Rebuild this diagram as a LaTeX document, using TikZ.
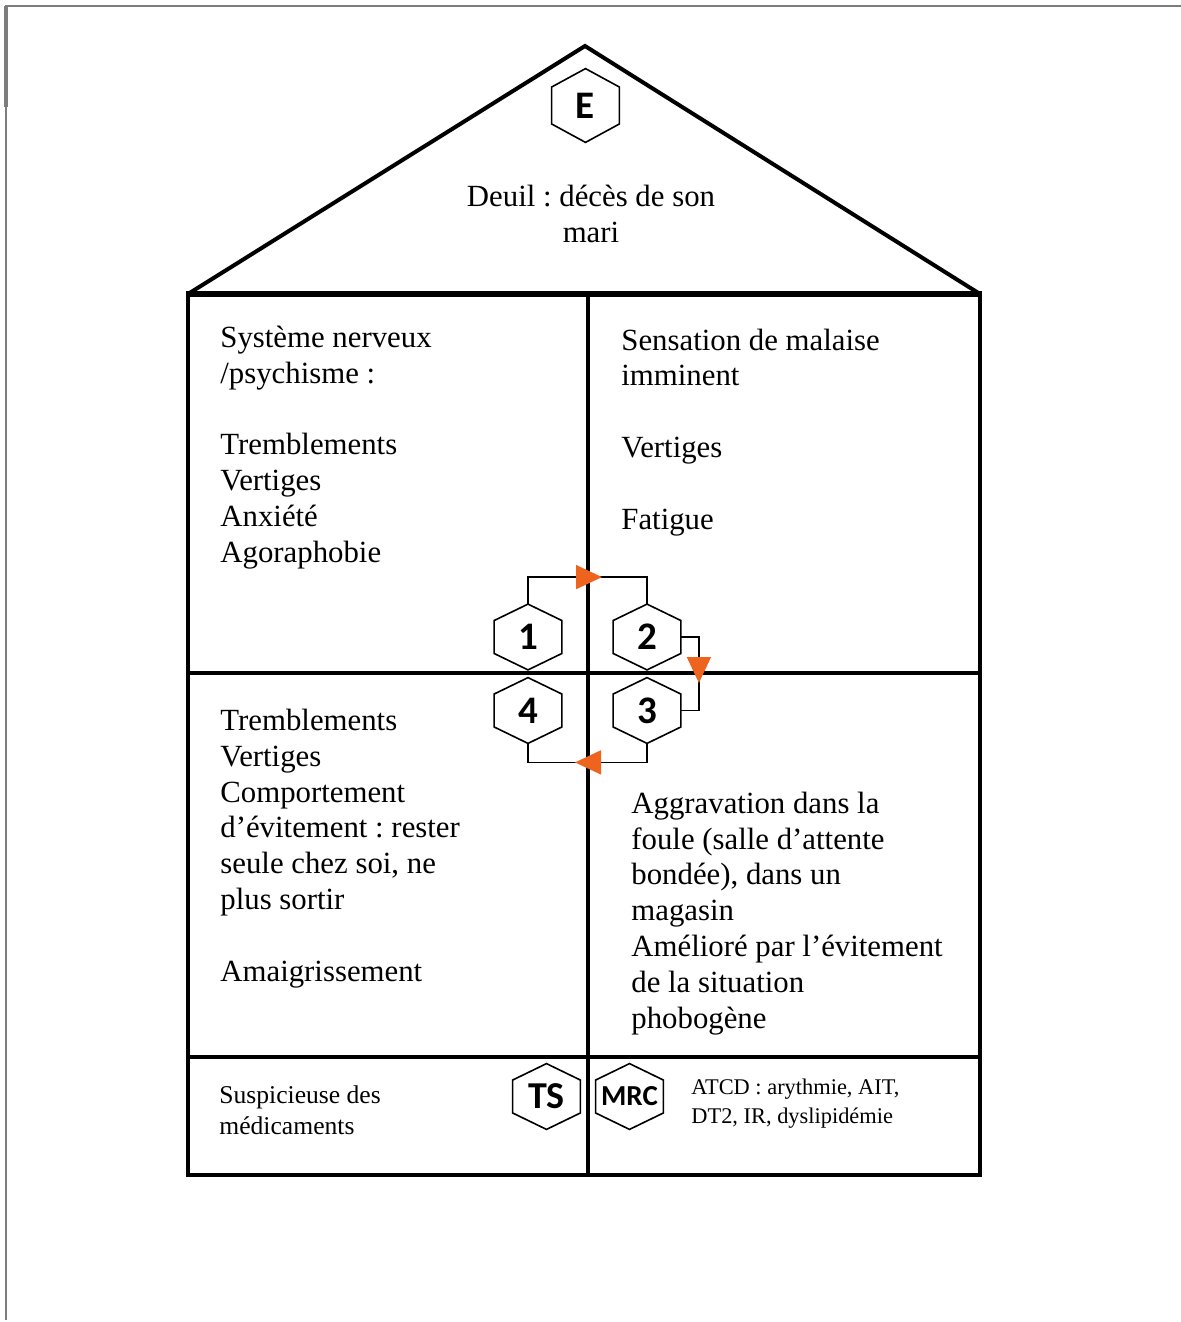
\documentclass[tikz,border=0pt]{standalone}
\usepackage{fontspec}
\setmainfont{Liberation Serif}
\newfontfamily\hexfont{Carlito}
\usetikzlibrary{arrows.meta,decorations.markings,calc}
\definecolor{arrowc}{RGB}{238,100,30}
\definecolor{framec}{RGB}{125,125,125}
\frenchspacing
\begin{document}
\frenchspacing
\begin{tikzpicture}[x=0.5pt,y=-0.5pt,
  hexa/.style={rectangle, minimum width=33.5pt, minimum height=32.5pt, inner sep=0pt,
    font=\hexfont\bfseries\fontsize{19.5}{19.5}\selectfont},
  hexline/.style={draw, line width=0.8pt, line join=miter},
  body/.style={anchor=base west, align=left, inner sep=0pt, font=\fontsize{15.4}{17.9}\selectfont},
  wall/.style={line width=2pt, line cap=rect},
  conn/.style={line width=0.8pt, postaction={decorate}},
  tip/.style={decoration={markings, mark=at position #1 with {\arrow{Triangle[length=13pt,width=12pt,fill=arrowc,color=arrowc]}}}}
]
\useasboundingbox (0,0) rectangle (1181,1322);
% outer frame
\draw[framec, line width=0.9pt] (6,1320) -- (6,6) -- (1181,6);
\draw[framec, line width=1.6pt] (6,6) -- (6,107);
% house
\draw[line width=2pt, line join=miter] (188,294) -- (585,46) -- (980,294);
\draw[line width=2.8pt] (186,294) -- (982,294);
\draw[wall] (188,294) -- (188,1175) -- (980,1175) -- (980,294);
\draw[line width=1.6pt] (588,294) -- (588,1175);
\draw[line width=1.6pt] (188,673) -- (980,673);
\draw[line width=1.6pt] (188,1057) -- (980,1057);
% hexagon nodes
\node[hexa, minimum height=36.5pt] (hE) at (585.5,105.5) {E};
\node[hexa] (h1) at (528,637) {1};
\node[hexa] (h2) at (647,637) {2};
\node[hexa] (h4) at (528,710.5) {4};
\node[hexa] (h3) at (647,710.5) {3};
\node[hexa, font=\hexfont\bfseries\fontsize{19}{19}\selectfont] (hTS) at (546.5,1096.5) {TS};
\node[hexa, font=\hexfont\bfseries\fontsize{14.5}{14.5}\selectfont] (hMRC) at (629.5,1096.5) {MRC};
\foreach \n in {hE,h1,h2,h3,h4,hTS,hMRC}
  \draw[hexline] (\n.north) -- ($(\n.north east)!0.25!(\n.south east)$)
    -- ($(\n.north east)!0.75!(\n.south east)$) -- (\n.south)
    -- ($(\n.south west)!0.25!(\n.north west)$)
    -- ($(\n.south west)!0.75!(\n.north west)$) -- cycle;
% cycle connectors
\draw[conn, tip=50.5pt] (h1.north) -- ++(0,-27) -| (h2.north);
\draw[conn, tip=32pt] (h2.east) -- ++(18,0) |- (h3.east);
\draw[conn, tip=45.5pt] (h3.south) -- ++(0,19) -| (h4.south);
% texts (anchored at the baseline of their last line)
\node[body, anchor=base, align=center] (tDeuil) at (591,242) {Deuil : décès de son\\mari};
\node[body] (tNerv) at (220,562) {Système nerveux\\/psychisme :\\[17.9pt]Tremblements\\Vertiges\\Anxiété\\Agoraphobie};
\node[body] (tMal) at (621,529) {Sensation de malaise\\imminent\\[17.9pt]Vertiges\\[17.9pt]Fatigue};
\node[body] (tTremb) at (220,981) {Tremblements\\Vertiges\\Comportement\\d’évitement : rester\\seule chez soi, ne\\plus sortir\\[17.9pt]Amaigrissement};
\node[body] (tAggr) at (631,1028) {Aggravation dans la\\foule (salle d’attente\\bondée), dans un\\magasin\\Amélioré par l’évitement\\de la situation\\phobogène};
\node[body, font=\fontsize{12.8}{15.5}\selectfont] (tSusp) at (219,1134) {Suspicieuse des\\médicaments};
\node[body, font=\fontsize{11.2}{14.5}\selectfont] (tATCD) at (691,1123) {ATCD : arythmie, AIT,\\DT2, IR, dyslipidémie};
\end{tikzpicture}
\end{document}
